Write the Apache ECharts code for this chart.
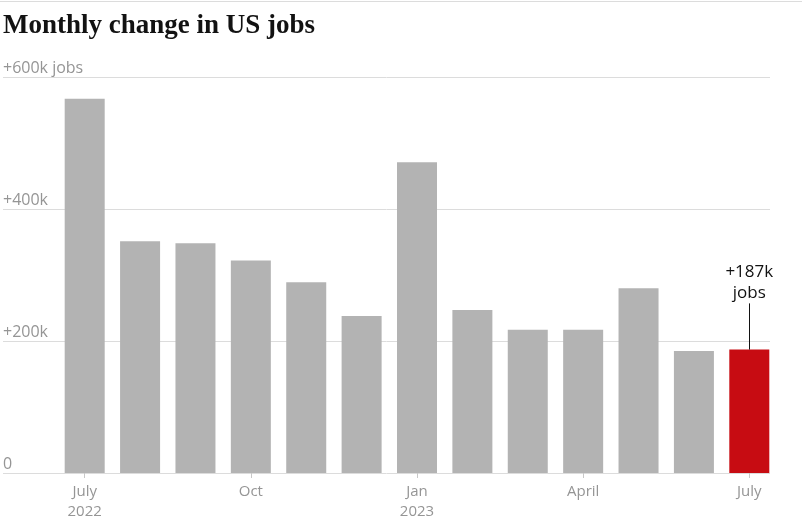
<!DOCTYPE html>
<html>
<head>
<meta charset="utf-8">
<script src="https://cdn.jsdelivr.net/npm/echarts@6/dist/echarts.min.js"></script>
<style>
html,body{margin:0;padding:0;background:#fff;}
#c{width:802px;height:523px;}
</style>
</head>
<body>
<div id="c"></div>
<script>
const months = ['2022-07','2022-08','2022-09','2022-10','2022-11','2022-12','2023-01','2023-02','2023-03','2023-04','2023-05','2023-06','2023-07'];
const monthLabels = ['July\n2022','','','Oct','','','Jan\n2023','','','April','','','July'];
const jobsK = [567, 351, 348, 322, 289, 238, 471, 247, 217, 217, 280, 185, 187];
const yTicks = [0, 200, 400, 600];
const yTickLabels = ['0', '+200k', '+400k', '+600k jobs'];
const annotation = '+187k\njobs';
const annotationTop = 257;

const grey = '#b3b3b3';
const red = '#c70c12';
const textGrey = '#959595';
const font = 'Open Sans';

const chart = echarts.init(document.getElementById('c'), null, {renderer: 'canvas'});
const last = jobsK.length - 1;

chart.setOption({
  animation: false,
  title: {
    text: 'Monthly change in US jobs',
    left: 3, top: 13, padding: 0,
    textStyle: {fontFamily: 'Liberation Serif', fontWeight: 'bold', fontSize: 27, color: '#121212'}
  },
  graphic: [{
    type: 'line', shape: {x1: 0, y1: 1.5, x2: 802, y2: 1.5},
    style: {stroke: '#dcdcdc', lineWidth: 1}
  }],
  grid: [
    {left: 57, right: 25, top: 77, bottom: 50},
    {left: 3, right: 32, top: 77, bottom: 50}
  ],
  xAxis: [
    {
      type: 'category', gridIndex: 0, data: months,
      axisLine: {show: false},
      axisTick: {show: true, alignWithLabel: true, length: 5, interval: (i) => monthLabels[i] !== '', lineStyle: {color: '#c8c8c8'}},
      axisLabel: {
        interval: (i) => monthLabels[i] !== '',
        formatter: (v, i) => monthLabels[i],
        color: textGrey, fontFamily: font, fontSize: 15, lineHeight: 20, margin: 9
      }
    },
    {type: 'value', gridIndex: 1, min: 0, max: 1, show: false}
  ],
  yAxis: [
    {type: 'value', gridIndex: 0, min: 0, max: 600, interval: 200, show: false},
    {
      type: 'value', gridIndex: 1, min: 0, max: 600, interval: 200,
      axisLine: {show: false}, axisTick: {show: false},
      splitLine: {show: true, lineStyle: {color: '#dcdcdc', width: 1}},
      axisLabel: {
        inside: true, margin: 0, align: 'left', verticalAlign: 'bottom',
        padding: [0, 0, 1, 0],
        formatter: (v) => yTickLabels[yTicks.indexOf(v)],
        color: textGrey, fontFamily: font, fontSize: 16
      }
    }
  ],
  series: [{
    type: 'bar', xAxisIndex: 0, yAxisIndex: 0,
    barWidth: 40,
    data: jobsK.map((v, i) => ({
      value: v,
      itemStyle: {color: i === last ? red : grey},
      label: i === last ? {
        show: true, position: 'top', distance: 46,
        formatter: annotation,
        color: '#121212', fontFamily: font, fontSize: 17, lineHeight: 21
      } : {show: false}
    })),
    markLine: {
      silent: true, symbol: 'none',
      label: {show: false},
      lineStyle: {color: '#121212', width: 1, type: 'solid'},
      data: [[{coord: [last, jobsK[last]]}, {coord: [last, annotationTop]}]]
    }
  }]
});
</script>
</body>
</html>
